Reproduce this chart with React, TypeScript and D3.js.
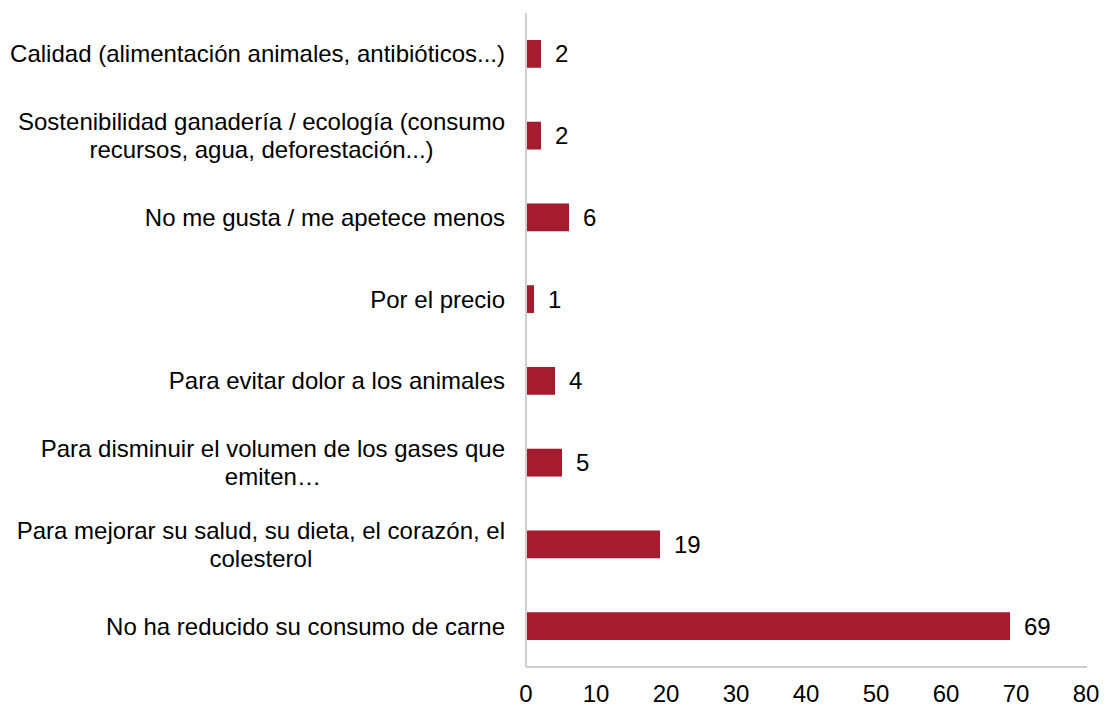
import React, { useEffect, useRef } from "react";
import * as d3 from "d3";

const categories: string[][] = [
  ["Calidad (alimentación animales, antibióticos...)"],
  ["Sostenibilidad ganadería / ecología (consumo", "recursos, agua, deforestación...)"],
  ["No me gusta / me apetece menos"],
  ["Por el precio"],
  ["Para evitar dolor a los animales"],
  ["Para disminuir el volumen de los gases que", "emiten…"],
  ["Para mejorar su salud, su dieta, el corazón, el", "colesterol"],
  ["No ha reducido su consumo de carne"],
];
const values: number[] = [2, 2, 6, 1, 4, 5, 19, 69];
const xTicks: number[] = [0, 10, 20, 30, 40, 50, 60, 70, 80];

const W = 1105;
const H = 706;
const left = 526;
const right = 1086;
const top = 13;
const bottom = 667;
const FONT = "'Liberation Sans', Arial, sans-serif";
const FS = 24;
const BAR = "#A51C30";

export default function App() {
  const ref = useRef<SVGSVGElement>(null);
  useEffect(() => {
    const svg = d3.select(ref.current);
    svg.selectAll("*").remove();
    const x = d3.scaleLinear().domain([0, 80]).range([left, right]);
    const y = d3
      .scaleBand<number>()
      .domain(d3.range(categories.length))
      .range([top, bottom])
      .paddingInner(0.66)
      .paddingOuter(0.33);

    // bars
    svg
      .append("g")
      .selectAll("rect")
      .data(values)
      .join("rect")
      .attr("x", x(0) + 1)
      .attr("y", (_, i) => y(i)!)
      .attr("width", (d) => x(d) - x(0))
      .attr("height", y.bandwidth())
      .attr("fill", BAR);

    // value labels
    svg
      .append("g")
      .selectAll("text")
      .data(values)
      .join("text")
      .attr("x", (d) => x(d) + 15)
      .attr("y", (_, i) => y(i)! + y.bandwidth() / 2)
      .attr("dy", "0.35em")
      .attr("font-family", FONT)
      .attr("font-size", FS)
      .attr("fill", "#000")
      .text((d) => String(d));

    // axes lines
    svg
      .append("line")
      .attr("x1", left)
      .attr("x2", left)
      .attr("y1", top)
      .attr("y2", bottom)
      .attr("stroke", "#BFBFBF")
      .attr("stroke-width", 1.5);
    svg
      .append("line")
      .attr("x1", left)
      .attr("x2", 1087)
      .attr("y1", bottom)
      .attr("y2", bottom)
      .attr("stroke", "#BFBFBF")
      .attr("stroke-width", 1.5);

    // x tick labels
    svg
      .append("g")
      .selectAll("text")
      .data(xTicks)
      .join("text")
      .attr("x", (d) => x(d))
      .attr("y", bottom + 27)
      .attr("dy", "0.35em")
      .attr("text-anchor", "middle")
      .attr("font-family", FONT)
      .attr("font-size", FS)
      .attr("fill", "#000")
      .text((d) => String(d));

    // category labels
    const labelRight = 505;
    const lineH = 28;
    categories.forEach((lines, i) => {
      const cy = y(i)! + y.bandwidth() / 2;
      const g = svg.append("g");
      const texts = lines.map((l, k) =>
        g
          .append("text")
          .attr("font-family", FONT)
          .attr("font-size", FS)
          .attr("fill", "#000")
          .attr("y", cy + (k - (lines.length - 1) / 2) * lineH)
          .attr("dy", "0.35em")
          .attr("text-anchor", "middle")
          .text(l)
      );
      const widths = texts.map((t) => (t.node() as SVGTextElement).getComputedTextLength());
      const maxW = Math.max(...widths);
      const cx = labelRight - maxW / 2;
      texts.forEach((t) => t.attr("x", cx));
    });
  }, []);
  return (
    <svg
      ref={ref}
      width={W}
      height={H}
      style={{ position: "absolute", left: 0, top: 0, background: "#fff" }}
    />
  );
}
